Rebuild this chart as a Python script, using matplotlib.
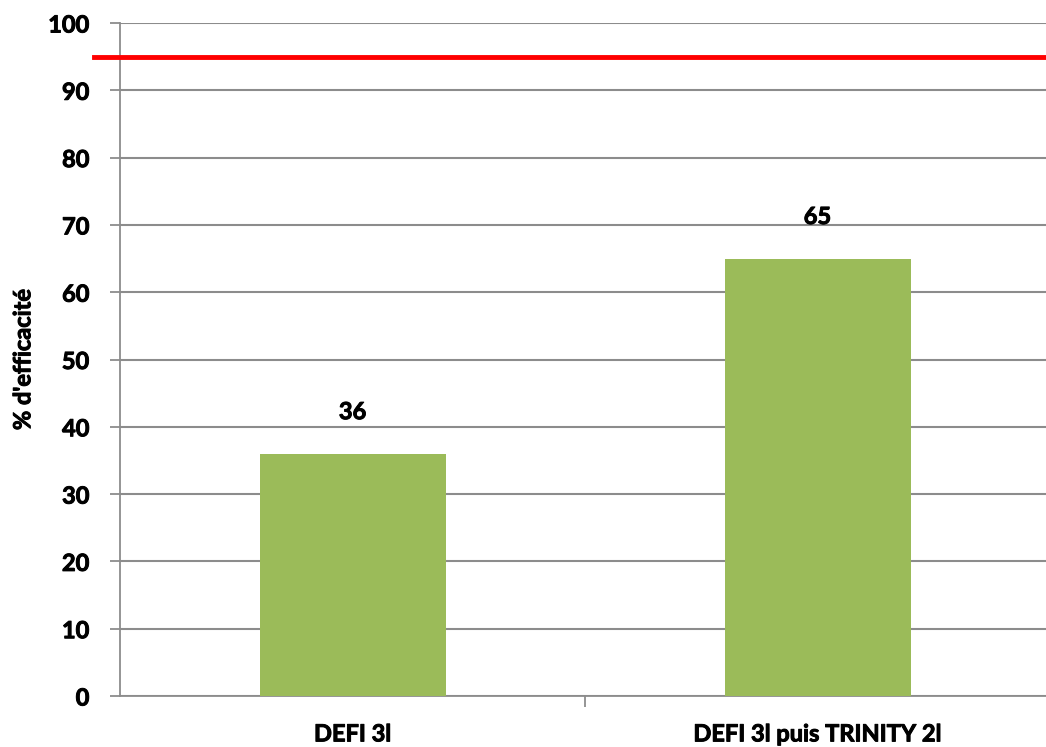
import matplotlib.pyplot as plt
import matplotlib.patheffects as pe

categories = ['DEFI 3l', 'DEFI 3l puis TRINITY 2l']
efficacite = [36, 65]
seuil = [95, 95]
y_ticks = [0, 10, 20, 30, 40, 50, 60, 70, 80, 90, 100]

plt.rcParams['font.family'] = ['Lato', 'DejaVu Sans']

grey = '#8c8c8c'
fw = 'bold'
thick = [pe.withStroke(linewidth=0.7, foreground='black')]

fig = plt.figure(figsize=(10.46, 7.47), dpi=100)
ax = fig.add_axes([120 / 1046, 51 / 747, 930 / 1046, 673 / 747])

x = range(len(categories))
bars = ax.bar(x, efficacite, width=0.4, color='#9BBB59', zorder=3)

for xi, v in zip(x, efficacite):
    ax.annotate(str(v), (xi, v), xytext=(0, 22), textcoords='offset points',
                ha='center', va='bottom', fontsize=17, fontweight=fw,
                zorder=5, path_effects=thick)

ax.set_xlim(-0.5, 1.5)
ax.set_ylim(0, 100)
ax.set_yticks(y_ticks)
ax.set_yticklabels([str(t) for t in y_ticks], fontsize=17, fontweight=fw)
ax.set_xticks(list(x))
ax.set_xticklabels(categories, fontsize=17, fontweight=fw)
ax.set_xticks([0.5], minor=True)
ax.tick_params(axis='x', which='major', length=0, pad=19)
ax.tick_params(axis='x', which='minor', length=8, color=grey, width=1.3)
ax.tick_params(axis='y', length=7, color=grey, width=1.3, pad=15)
ax.grid(axis='y', color=grey, linewidth=1.5, zorder=0)
ax.set_axisbelow(True)
for lbl in ax.get_xticklabels() + ax.get_yticklabels():
    lbl.set_path_effects(thick)

for side in ('top', 'right'):
    ax.spines[side].set_visible(False)
for side in ('left', 'bottom'):
    ax.spines[side].set_color(grey)
    ax.spines[side].set_linewidth(1.3)

ylab = ax.set_ylabel("% d'efficacité", fontsize=17, fontweight=fw,
                     labelpad=10)
ylab.set_path_effects(thick)

# seuil d'efficacité (ligne rouge)
ax.plot([-0.555, 1.5], seuil, color='red', linewidth=3.5, clip_on=False,
        zorder=4)

fig.savefig('out.png', dpi=100)
